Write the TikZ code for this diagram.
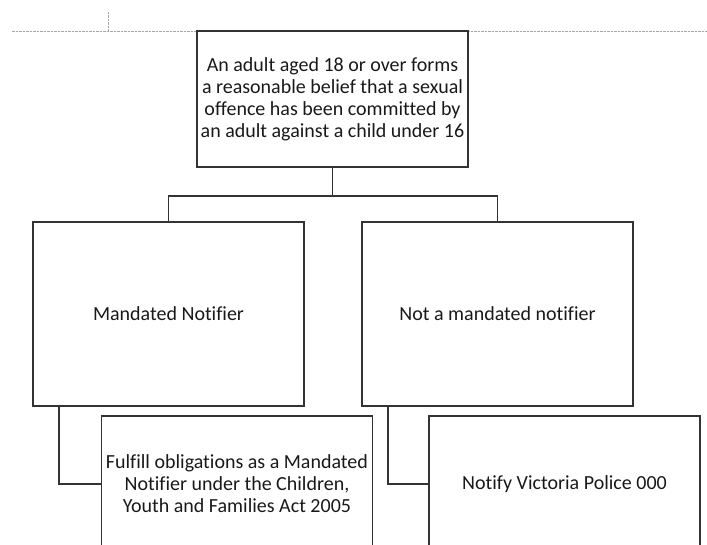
\documentclass[tikz,border=0pt]{standalone}
\usepackage{fontspec}
\setmainfont{Carlito}[Ligatures={NoCommon}]
\begin{document}
\begin{tikzpicture}[x=1pt,y=-1pt,
  box/.style={draw=black!80,line width=1.7pt,rectangle,inner sep=0pt,align=center,
    minimum width=271pt,font=\fontsize{20}{22}\selectfont,text=black!90},
  conn/.style={draw=black!80,line width=1.7pt},
  guide/.style={draw=black!35,line width=0.8pt,dash pattern=on 2.5pt off 1pt}]
\useasboundingbox (0,0) rectangle (707,545);
\coordinate (g1) at (12,31);
\coordinate (g2) at (707,31);
\coordinate (g3) at (108,12);
\coordinate (g4) at (108,31);
\draw[guide] (g1) -- (g2);
\draw[guide] (g3) -- (g4);
\node[box,minimum height=136pt] (top) at (332.5,99)
  {An adult aged 18 or over forms\\a reasonable belief that a sexual\\offence has been committed by\\an adult against a child under 16};
\node[box,minimum height=184pt] (mid1) at (168.5,314) {Mandated Notifier};
\node[box,minimum height=184pt] (mid2) at (497.5,314) {Not a mandated notifier};
\node[box,minimum height=136pt] (bot1) at (237,484)
  {Fulfill obligations as a Mandated\\Notifier under the Children,\\Youth and Families Act 2005};
\node[box,minimum height=136pt] (bot2) at (564.5,484) {Notify Victoria Police 000};
\draw[conn] (top.south) -- ++(0,28) coordinate (j);
\draw[conn] (mid1.north) |- (j) -| (mid2.north);
\draw[conn] ([xshift=27pt]mid1.south west) |- (bot1.west);
\draw[conn] ([xshift=27pt]mid2.south west) |- (bot2.west);
\end{tikzpicture}
\end{document}
